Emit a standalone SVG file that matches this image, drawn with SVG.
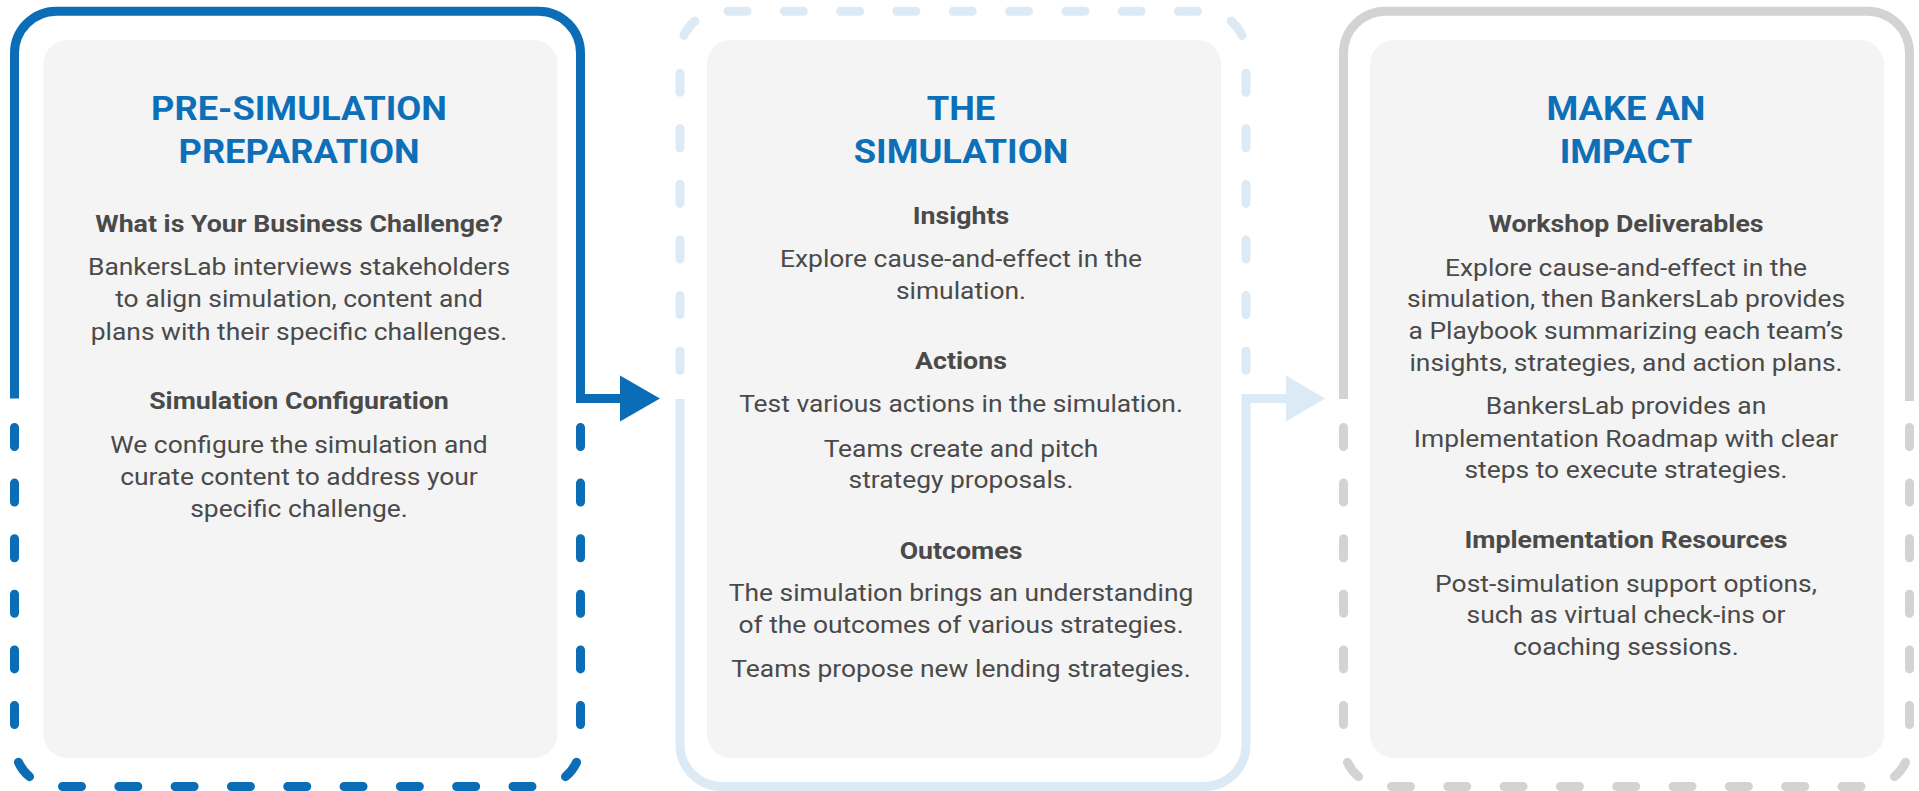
<svg xmlns="http://www.w3.org/2000/svg" width="1919" height="791" viewBox="0 0 1919 791">
<style>
.bg{fill:#ffffff}
.box{fill:#f4f4f4}
.s{fill:none;stroke-width:9;stroke-linejoin:miter;stroke-linecap:butt}
.d{fill:none;stroke-width:9;stroke-linecap:round}
.dv{stroke-dasharray:19 36.6}
.dh{stroke-dasharray:19 37.31}
.blue{stroke:#0b6db6}
.lb{stroke:#dceaf5}
.gr{stroke:#d3d3d3}
text{font-family:Roboto,"Liberation Sans",sans-serif;text-anchor:middle;fill:#4a4a4a}
.t{font-size:33px;font-weight:700;fill:#0d6fb8}
.h{font-size:24.3px;font-weight:700}
.b{font-size:24px;font-weight:400}
</style>
<rect class="bg" x="0" y="0" width="1919" height="791"/>

<g id="pre-simulation">
<rect class="box" x="43.5" y="40" width="514" height="718" rx="24"/>
<path class="s blue" d="M14.5 398.5 V53.2 A42 42 0 0 1 56.5 11.2 H538.5 A42 42 0 0 1 580.5 53.2 V403"/>
<line class="d dv blue" x1="14.5" y1="427.5" x2="14.5" y2="724.5"/>
<line class="d dv blue" x1="580.5" y1="427.5" x2="580.5" y2="724.5"/>
<line class="d dh blue" x1="62.5" y1="786.5" x2="532" y2="786.5"/>
<path class="d blue" d="M18.44 762.25 A42 42 0 0 0 29.5 776.67"/>
<path class="d blue" d="M576.56 762.25 A42 42 0 0 1 565.5 776.67"/>
<g transform="translate(299 0) scale(1.1 1)">
<text class="t" x="0" y="120">PRE-SIMULATION</text>
<text class="t" x="0" y="163">PREPARATION</text>
<text class="h" x="0" y="232">What is Your Business Challenge?</text>
<text class="b" x="0" y="275">BankersLab interviews stakeholders</text>
<text class="b" x="0" y="307.5">to align simulation, content and</text>
<text class="b" x="0" y="340">plans with their specific challenges.</text>
<text class="h" x="0" y="409">Simulation Configuration</text>
<text class="b" x="0" y="453">We configure the simulation and</text>
<text class="b" x="0" y="485">curate content to address your</text>
<text class="b" x="0" y="517">specific challenge.</text>
</g>
</g>

<g id="the-simulation">
<rect class="box" x="707" y="40" width="514" height="718" rx="24"/>
<path class="s lb" d="M680 399 V744.5 A42 42 0 0 0 722 786.5 H1204 A42 42 0 0 0 1246 744.5 V394"/>
<line class="d dv lb" x1="680" y1="73.2" x2="680" y2="370.2"/>
<line class="d dv lb" x1="1246" y1="73.2" x2="1246" y2="370.2"/>
<line class="d dh lb" x1="728" y1="11.2" x2="1197.5" y2="11.2"/>
<path class="d lb" d="M683.94 35.45 A42 42 0 0 1 695 21.03"/>
<path class="d lb" d="M1242.06 35.45 A42 42 0 0 0 1231 21.03"/>
<g transform="translate(961 0) scale(1.1 1)">
<text class="t" x="0" y="120">THE</text>
<text class="t" x="0" y="163">SIMULATION</text>
<text class="h" x="0" y="224.5">Insights</text>
<text class="b" x="0" y="267.3">Explore cause-and-effect in the</text>
<text class="b" x="0" y="299.3">simulation.</text>
<text class="h" x="0" y="369.3">Actions</text>
<text class="b" x="0" y="412.5">Test various actions in the simulation.</text>
<text class="b" x="0" y="456.7">Teams create and pitch</text>
<text class="b" x="0" y="488.3">strategy proposals.</text>
<text class="h" x="0" y="559">Outcomes</text>
<text class="b" x="0" y="601">The simulation brings an understanding</text>
<text class="b" x="0" y="633.3">of the outcomes of various strategies.</text>
<text class="b" x="0" y="676.7">Teams propose new lending strategies.</text>
</g>
</g>

<g id="make-an-impact">
<rect class="box" x="1370" y="40" width="514" height="718" rx="24"/>
<path class="s gr" d="M1343.5 399 V53.2 A42 42 0 0 1 1385.5 11.2 H1867.5 A42 42 0 0 1 1909.5 53.2 V401"/>
<line class="d dv gr" x1="1343.5" y1="427.5" x2="1343.5" y2="724.5"/>
<line class="d dv gr" x1="1909.5" y1="427.5" x2="1909.5" y2="724.5"/>
<line class="d dh gr" x1="1391.5" y1="786.5" x2="1861" y2="786.5"/>
<path class="d gr" d="M1347.44 762.25 A42 42 0 0 0 1358.5 776.67"/>
<path class="d gr" d="M1905.56 762.25 A42 42 0 0 1 1894.5 776.67"/>
<g transform="translate(1626 0) scale(1.1 1)">
<text class="t" x="0" y="120">MAKE AN</text>
<text class="t" x="0" y="163">IMPACT</text>
<text class="h" x="0" y="232.3">Workshop Deliverables</text>
<text class="b" x="0" y="276">Explore cause-and-effect in the</text>
<text class="b" x="0" y="307.5">simulation, then BankersLab provides</text>
<text class="b" x="0" y="339.5">a Playbook summarizing each team’s</text>
<text class="b" x="0" y="371">insights, strategies, and action plans.</text>
<text class="b" x="0" y="414.3">BankersLab provides an</text>
<text class="b" x="0" y="446.7">Implementation Roadmap with clear</text>
<text class="b" x="0" y="478.3">steps to execute strategies.</text>
<text class="h" x="0" y="548.3">Implementation Resources</text>
<text class="b" x="0" y="591.7">Post-simulation support options,</text>
<text class="b" x="0" y="623.3">such as virtual check-ins or</text>
<text class="b" x="0" y="655.3">coaching sessions.</text>
</g>
</g>

<g id="connectors">
<path class="s blue" d="M580.5 398.5 H621"/>
<polygon fill="#0b6db6" points="620,375.5 660,398.5 620,421.5"/>
<path class="s lb" d="M1246 398.5 H1287"/>
<polygon fill="#dceaf5" points="1286,375.5 1325,398.5 1286,421.5"/>
</g>
</svg>
